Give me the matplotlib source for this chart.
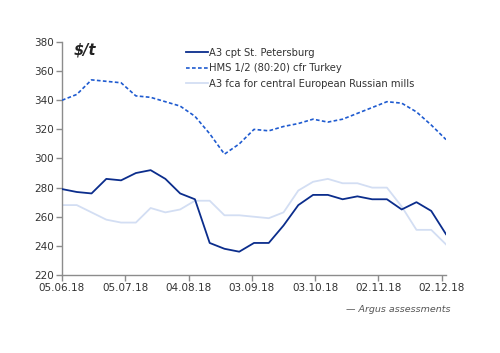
import datetime as dt

import matplotlib
matplotlib.use("Agg")
import matplotlib.pyplot as plt
import matplotlib.dates as mdates

# weekly assessments, 05.06.18 - 04.12.18
start = dt.date(2018, 6, 5)
dates = [start + dt.timedelta(days=7 * i) for i in range(27)]

a3_spb = [279, 277, 276, 286, 285, 290, 292, 286, 276, 272, 242, 238, 236,
          242, 242, 254, 268, 275, 275, 272, 274, 272, 272, 265, 270, 264, 248]
hms_turkey = [340, 344, 354, 353, 352, 343, 342, 339, 336, 329, 317, 303, 310,
              320, 319, 322, 324, 327, 325, 327, 331, 335, 339, 338, 332, 323, 313]
a3_fca = [268, 268, 263, 258, 256, 256, 266, 263, 265, 271, 271, 261, 261,
          260, 259, 263, 278, 284, 286, 283, 283, 280, 280, 267, 251, 251, 241]

tick_dates = [start + dt.timedelta(days=30 * i) for i in range(7)]
yticks = [220, 240, 260, 280, 300, 320, 340, 360, 380]

grey = "#8c8c8c"
text_col = "#333333"

fig = plt.figure(figsize=(5.0, 3.53), dpi=100)
ax = fig.add_axes([0.124, 0.221, 0.768, 0.660])

l3, = ax.plot(dates, a3_fca, color="#d3def3", lw=1.3, zorder=2)
l2, = ax.plot(dates, hms_turkey, color="#1f5bd0", lw=1.2, ls=(0, (2.2, 1.4)), zorder=3)
l1, = ax.plot(dates, a3_spb, color="#0b2d8c", lw=1.3, zorder=4)

ax.set_ylim(220, 380)
ax.set_yticks(yticks)
ax.set_xlim(dates[0], dates[-1] + dt.timedelta(days=0.5))
ax.set_xticks(tick_dates)
ax.xaxis.set_major_formatter(mdates.DateFormatter("%d.%m.%y"))

for s in ["top", "right"]:
    ax.spines[s].set_visible(False)
for s in ["left", "bottom"]:
    ax.spines[s].set_color(grey)
    ax.spines[s].set_linewidth(1.0)
ax.tick_params(axis="both", colors=grey, labelcolor=text_col, labelsize=7.5,
               length=4, width=1.0, direction="out", pad=2)

ax.text(0.03, 1.0, "$/t", transform=ax.transAxes, fontsize=10.5,
        fontweight="bold", fontstyle="italic", color="#222222", va="top", ha="left")

ax.legend([l1, l2, l3],
          ["A3 cpt St. Petersburg", "HMS 1/2 (80:20) cfr Turkey",
           "A3 fca for central European Russian mills"],
          loc="upper left", bbox_to_anchor=(0.305, 1.005), frameon=False,
          fontsize=7.2, handlelength=2.2, handletextpad=0.1, labelspacing=0.55,
          borderpad=0.2, labelcolor=text_col)

fig.text(0.90, 0.122, "\u2014 Argus assessments", fontsize=6.8, fontstyle="italic",
         color="#555555", ha="right", va="center")

fig.savefig("out.png", dpi=100)
